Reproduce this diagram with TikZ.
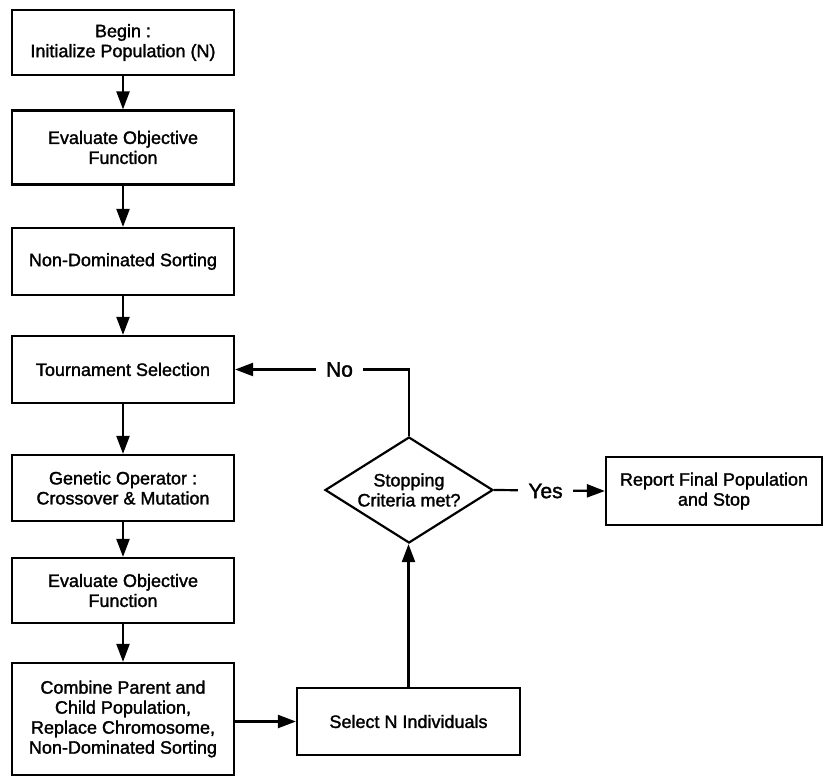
\documentclass[tikz,border=0pt]{standalone}
\usepackage{fontspec}
\setmainfont{Liberation Sans}[RawFeature={embolden=1.6}]
\usetikzlibrary{arrows.meta,shapes.geometric}
\begin{document}
\begin{tikzpicture}[x=1pt,y=-1pt,
  box/.style={draw,line width=2.2pt,align=center,inner sep=0pt,
    font=\fontsize{18}{20}\selectfont},
  colbox/.style={box,minimum width=222pt},
  decision/.style={draw,diamond,line width=2.2pt,align=center,inner sep=0pt,
    aspect=1.58,minimum width=168pt,minimum height=106pt,
    font=\fontsize{18}{20}\selectfont},
  link/.style={line width=2.2pt,-{Triangle[length=18pt,width=13pt]}},
  lbl/.style={fill=white,inner xsep=10pt,inner ysep=2pt,
    font=\fontsize{21}{24}\selectfont}]
\useasboundingbox (0,0) rectangle (824,776);

% main column of the algorithm
\node[colbox,minimum height=65pt]  (b1) at (123,42.5) {Begin :\\Initialize Population (N)};
\node[colbox,minimum height=74pt]  (b2) at (123,147.5) {Evaluate Objective\\Function};
\node[colbox,minimum height=67pt]  (b3) at (123,261.5) {Non-Dominated Sorting};
\node[colbox,minimum height=67pt]  (b4) at (123,369.5) {Tournament Selection};
\node[colbox,minimum height=66pt]  (b5) at (123,488) {Genetic Operator :\\Crossover \& Mutation};
\node[colbox,minimum height=65pt]  (b6) at (123,590.5) {Evaluate Objective\\Function};
\node[colbox,minimum height=112pt] (b7) at (123,719) {Combine Parent and\\Child Population,\\Replace Chromosome,\\Non-Dominated Sorting};

% selection, decision and termination
\node[box,minimum width=223pt,minimum height=67pt] (sel) at (408.5,721.5) {Select N Individuals};
\node[decision] (dia) at (409,490) {Stopping\\Criteria met?};
\node[box,minimum width=216pt,minimum height=68pt] (rep) at (714,491) {Report Final Population\\and Stop};

% flow along the column
\draw[link] (b1) -- (b2);
\draw[link] (b2) -- (b3);
\draw[link] (b3) -- (b4);
\draw[link] (b4) -- (b5);
\draw[link] (b5) -- (b6);
\draw[link] (b6) -- (b7);

% loop back and exit
\draw[link] (b7.east |- sel.west) -- (sel.west);
\draw[link] (sel.north) -- (sel.north |- dia.south);
\draw[link] (dia.north) |- (b4.east);
\node[lbl] (no) at (339.5,369.5) {No};
\draw[link] (dia.east) -- (rep.west);
\node[lbl] (yes) at (545.5,491) {Yes};
\end{tikzpicture}
\end{document}
